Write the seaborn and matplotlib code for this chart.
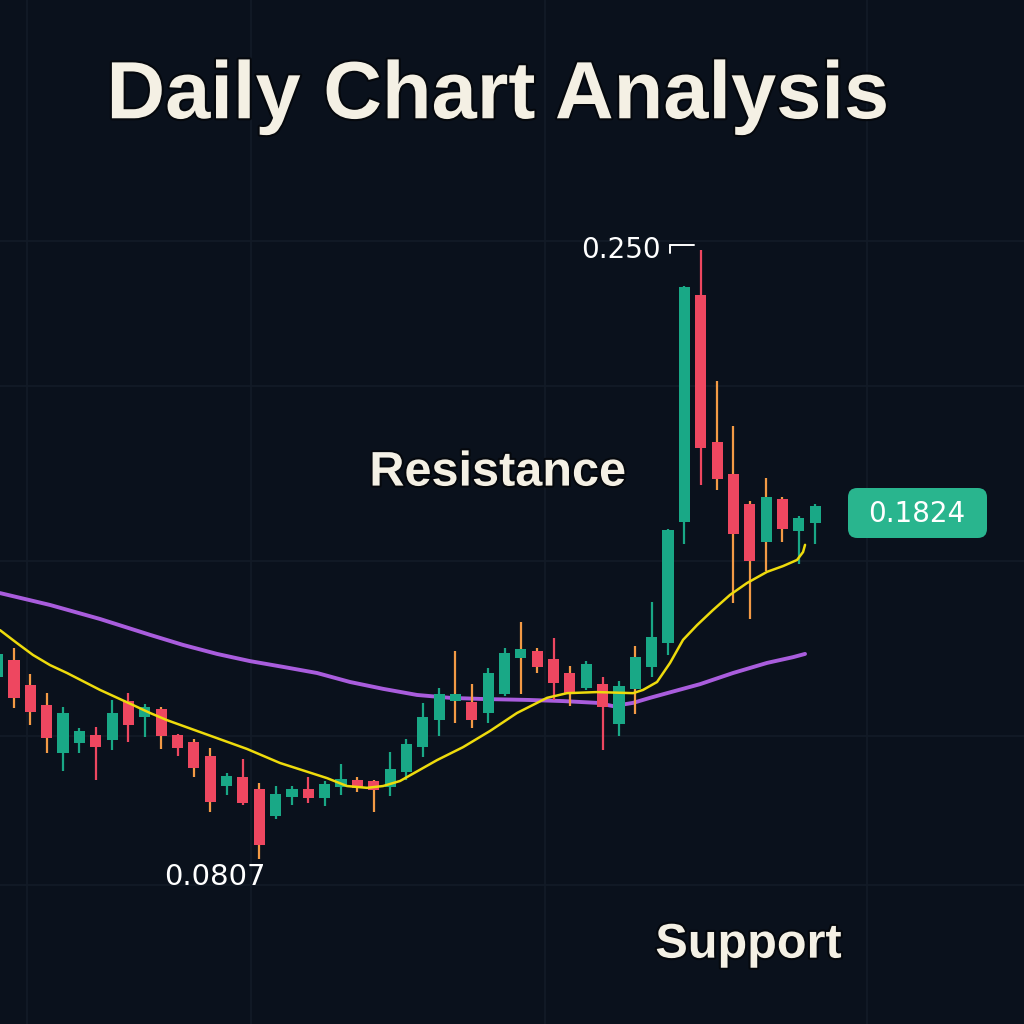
import numpy as np
import pandas as pd
import seaborn as sns
import matplotlib.pyplot as plt
import matplotlib.patheffects as pe
from matplotlib.patches import FancyBboxPatch

# daily candles (index 0 is the cut-off one at the left edge)
opens = [0.1314, 0.1361, 0.1292, 0.1236, 0.1103, 0.1131, 0.1153, 0.1139, 0.1247, 0.1203,
         0.1225, 0.1153, 0.1133, 0.1094, 0.1011, 0.1036, 0.1003, 0.0928, 0.0981, 0.1003,
         0.0978, 0.1008, 0.1028, 0.1025, 0.1008, 0.1050, 0.1119, 0.1194, 0.1247, 0.1244,
         0.1214, 0.1267, 0.1367, 0.1386, 0.1364, 0.1325, 0.1283, 0.1294, 0.1183, 0.1281,
         0.1342, 0.1408, 0.1744, 0.2375, 0.1967, 0.1878, 0.1794, 0.1689, 0.1808, 0.1719,
         0.1742]
highs = [0.1394, 0.1394, 0.1322, 0.1269, 0.1231, 0.1172, 0.1175, 0.1250, 0.1269, 0.1239,
         0.1231, 0.1156, 0.1142, 0.1117, 0.1047, 0.1086, 0.1019, 0.1011, 0.1011, 0.1036,
         0.1025, 0.1072, 0.1036, 0.1028, 0.1106, 0.1142, 0.1242, 0.1283, 0.1386, 0.1294,
         0.1339, 0.1394, 0.1467, 0.1394, 0.1422, 0.1344, 0.1358, 0.1314, 0.1303, 0.1400,
         0.1522, 0.1725, 0.2400, 0.2500, 0.2136, 0.2011, 0.1803, 0.1867, 0.1814, 0.1761,
         0.1794]
lows = [0.1300, 0.1228, 0.1181, 0.1103, 0.1053, 0.1103, 0.1028, 0.1111, 0.1133, 0.1147,
        0.1114, 0.1094, 0.1036, 0.0939, 0.0986, 0.0958, 0.0807, 0.0919, 0.0958, 0.0964,
        0.0956, 0.0986, 0.0994, 0.0939, 0.0983, 0.1028, 0.1092, 0.1150, 0.1186, 0.1172,
        0.1186, 0.1261, 0.1267, 0.1325, 0.1250, 0.1233, 0.1278, 0.1111, 0.1150, 0.1211,
        0.1314, 0.1375, 0.1683, 0.1847, 0.1833, 0.1519, 0.1475, 0.1608, 0.1689, 0.1628,
        0.1683]
closes = [0.1378, 0.1256, 0.1217, 0.1144, 0.1214, 0.1164, 0.1119, 0.1214, 0.1181, 0.1231,
          0.1150, 0.1117, 0.1061, 0.0967, 0.1039, 0.0964, 0.0847, 0.0989, 0.1003, 0.0978,
          0.1017, 0.1031, 0.1006, 0.1000, 0.1058, 0.1128, 0.1203, 0.1267, 0.1267, 0.1194,
          0.1325, 0.1381, 0.1392, 0.1342, 0.1297, 0.1269, 0.1350, 0.1231, 0.1289, 0.1369,
          0.1425, 0.1722, 0.2397, 0.1950, 0.1864, 0.1711, 0.1636, 0.1814, 0.1725, 0.1756,
          0.1789]

# short (yellow) moving average
fast_x = [0.144, 1.183, 2.162, 3.202, 4.242, 6.260, 8.278, 9.318, 10.358, 12.376, 15.251,
          17.269, 20.144, 21.367, 22.590, 23.569, 24.609, 26.872, 28.462, 30.113, 31.765,
          33.599, 34.823, 36.657, 38.859, 39.471, 40.327, 41.122, 41.917, 42.774, 43.752,
          44.792, 45.832, 47.055, 48.034, 48.890, 49.257, 49.379]
fast_y = [0.1444, 0.1408, 0.1375, 0.1347, 0.1325, 0.1278, 0.1236, 0.1214, 0.1194, 0.1161,
          0.1114, 0.1075, 0.1033, 0.1011, 0.1006, 0.1011, 0.1025, 0.1083, 0.1119, 0.1164,
          0.1214, 0.1256, 0.1269, 0.1272, 0.1269, 0.1278, 0.1300, 0.1353, 0.1417, 0.1458,
          0.1500, 0.1542, 0.1575, 0.1606, 0.1622, 0.1639, 0.1661, 0.1681]

# long (purple) moving average
slow_x = [0.144, 3.202, 6.260, 9.318, 11.336, 13.416, 15.434, 17.453, 19.532, 21.550,
          23.569, 25.648, 27.667, 29.502, 32.560, 34.578, 36.657, 37.636, 38.859, 39.899,
          40.939, 42.957, 44.976, 47.055, 48.645, 49.379]
slow_y = [0.1547, 0.1514, 0.1475, 0.1431, 0.1403, 0.1378, 0.1358, 0.1342, 0.1325, 0.1300,
          0.1281, 0.1264, 0.1256, 0.1253, 0.1250, 0.1247, 0.1242, 0.1233, 0.1242, 0.1256,
          0.1269, 0.1294, 0.1325, 0.1353, 0.1369, 0.1378]

title = "Daily Chart Analysis"
last_price = "0.1824"
high_label = "0.250"
low_label = "0.0807"

bg = "#0a111c"
up_col = "#19a886"
down_col = "#ee4760"
wick_orange = "#f39a45"
orange_wicks = [1, 2, 3, 10, 12, 13, 16, 22, 23, 28, 29, 32, 33, 35, 39, 44, 45, 46, 47, 48]

df = pd.DataFrame({"open": opens, "high": highs, "low": lows, "close": closes})
df["i"] = np.arange(len(df))
df["up"] = df["close"] >= df["open"]

sns.set_theme(style="dark")
fig = plt.figure(figsize=(10.24, 10.24), dpi=100, facecolor=bg)
ax = fig.add_axes([0, 0, 1, 1])
ax.set_facecolor(bg)

ax.set_xlim(0.1437, 62.77)
ax.set_ylim(0.035, 0.31944)
ax.set_xticks([1.8, 15.5, 33.48, 53.17])
ax.set_yticks([0.0736, 0.1150, 0.1636, 0.2122, 0.2525])
ax.grid(True, color="#131b27", lw=1.2)
ax.tick_params(length=0, labelbottom=False, labelleft=False)
for s in ax.spines.values():
    s.set_visible(False)

# long average sits under the candles
ma_slow = pd.DataFrame({"x": slow_x, "y": slow_y})
sns.lineplot(data=ma_slow, x="x", y="y", ax=ax, color="#a95ddd", lw=2.8, zorder=2)

# candles
wick_cols = [wick_orange if k in orange_wicks else (up_col if u else down_col)
             for k, u in zip(df["i"], df["up"])]
ax.vlines(df["i"], df["low"], df["high"], colors=wick_cols, lw=1.6, zorder=3)
body_cols = [up_col if u else down_col for u in df["up"]]
ax.bar(df["i"], (df["close"] - df["open"]).abs(),
       bottom=df[["open", "close"]].min(axis=1),
       width=0.68, color=body_cols, edgecolor="none", linewidth=0, zorder=4)

# short average drawn over the candles
ma_fast = pd.DataFrame({"x": fast_x, "y": fast_y})
sns.lineplot(data=ma_fast, x="x", y="y", ax=ax, color="#eedb0c", lw=1.8, zorder=5)

ax.set_xlabel("")
ax.set_ylabel("")

outline = [pe.withStroke(linewidth=3, foreground="#05080d")]
cream = "#f4f0e4"

fig.text(0.486, 0.905, title, ha="center", va="center", fontsize=58.5,
         fontweight="bold", family="Liberation Sans", color=cream, path_effects=outline)
fig.text(0.486, 0.538, "Resistance", ha="center", va="center", fontsize=35,
         fontweight="bold", family="Liberation Sans", color=cream, path_effects=outline)
fig.text(0.731, 0.077, "Support", ha="center", va="center", fontsize=35,
         fontweight="bold", family="Liberation Sans", color=cream, path_effects=outline)

# peak / trough labels
ax.text(40.55, 0.2500, high_label, ha="right", va="center", fontsize=20,
        family="DejaVu Sans", color="white")
ax.plot([41.1, 42.6], [0.2514, 0.2514], color="white", lw=1.4, zorder=6)
ax.plot([41.1, 41.1], [0.2514, 0.2492], color="white", lw=1.4, zorder=6)
ax.text(13.3, 0.0758, low_label, ha="center", va="center", fontsize=21,
        family="DejaVu Sans", color="white")

# last price badge
badge = FancyBboxPatch((848 / 1024, 1 - 538 / 1024), 139 / 1024, 50 / 1024,
                       boxstyle="round,pad=0,rounding_size=0.009",
                       transform=fig.transFigure, facecolor="#29b58e",
                       edgecolor="none", zorder=6)
fig.patches.append(badge)
fig.text(917 / 1024, 1 - 514 / 1024, last_price, ha="center", va="center",
         fontsize=20, family="DejaVu Sans", color="white", zorder=7)

fig.savefig("out.png", dpi=100, facecolor=bg)
